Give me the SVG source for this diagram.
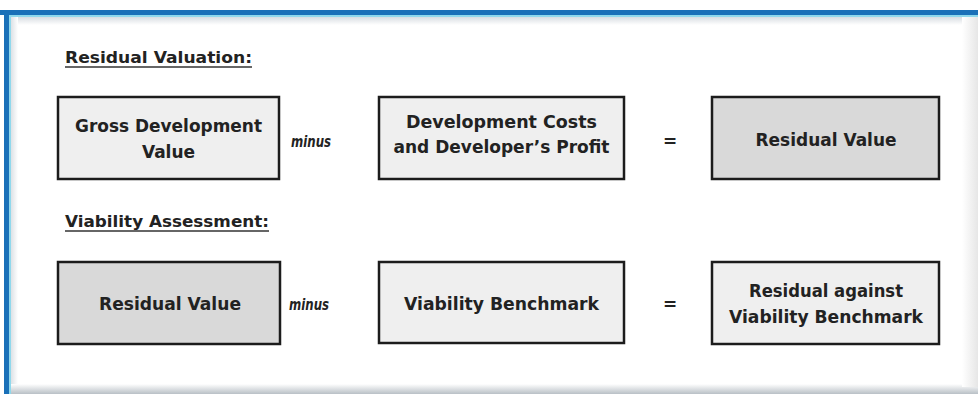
<svg xmlns="http://www.w3.org/2000/svg" width="978" height="394" viewBox="0 0 978 394">
<defs>
<linearGradient id="gTop" x1="0" y1="0" x2="0" y2="1"><stop offset="0" stop-color="#d8dde2"/><stop offset="1" stop-color="#ffffff"/></linearGradient>
<linearGradient id="gLeft" x1="0" y1="0" x2="1" y2="0"><stop offset="0" stop-color="#d8dde2"/><stop offset="1" stop-color="#ffffff"/></linearGradient>
<linearGradient id="gBottom" x1="0" y1="0" x2="0" y2="1"><stop offset="0" stop-color="#ffffff"/><stop offset="1" stop-color="#b9c0c6"/></linearGradient>
<linearGradient id="gRight" x1="0" y1="0" x2="1" y2="0"><stop offset="0" stop-color="#ffffff"/><stop offset="1" stop-color="#e6e6e6"/></linearGradient>
</defs>
<style>
.box{stroke:#1c1c1c;stroke-width:2.5}
.light{fill:#efefef}
.dark{fill:#d9d9d9}
text{font-family:"DejaVu Sans","Liberation Sans",sans-serif;font-weight:bold;fill:#222}
.t{font-size:17px;text-anchor:middle}
.h{font-size:16px}
.op{font-size:15px;font-style:italic}
.eq{font-size:17px;text-anchor:middle}
.ul{stroke:#333;stroke-width:1.3}
</style>
<rect width="978" height="394" fill="#ffffff"/>
<rect x="10" y="17" width="960" height="8" fill="url(#gTop)"/>
<rect x="10" y="17" width="8" height="370" fill="url(#gLeft)"/>
<rect x="10" y="384" width="968" height="10" fill="url(#gBottom)"/>
<rect x="962" y="17" width="16" height="370" fill="url(#gRight)"/>
<rect x="0" y="10" width="978" height="5" fill="#1a70b8"/>
<rect x="4" y="10" width="5" height="384" fill="#1a70b8"/>
<rect x="9" y="15" width="969" height="2" fill="#8fd8ec"/>
<rect x="9" y="15" width="2" height="379" fill="#8fd8ec"/>

<g id="heading-residual-valuation">
<text class="h" x="65" y="63" textLength="187" lengthAdjust="spacingAndGlyphs">Residual Valuation:</text>
<line class="ul" x1="65" y1="67" x2="252" y2="67"/>
</g>
<g id="heading-viability-assessment">
<text class="h" x="65" y="227" textLength="204" lengthAdjust="spacingAndGlyphs">Viability Assessment:</text>
<line class="ul" x1="65" y1="231" x2="269" y2="231"/>
</g>

<g id="gdv">
<rect class="box light" x="58" y="97" width="221" height="82"/>
<text class="t" x="168.5" y="132" textLength="187" lengthAdjust="spacingAndGlyphs">Gross Development</text>
<text class="t" x="168.5" y="158">Value</text>
</g>
<g id="dev-costs">
<rect class="box light" x="379" y="97" width="245" height="82"/>
<text class="t" x="501.5" y="128" textLength="191" lengthAdjust="spacingAndGlyphs">Development Costs</text>
<text class="t" x="501.5" y="153" textLength="216" lengthAdjust="spacingAndGlyphs">and Developer’s Profit</text>
</g>
<g id="residual-value-1">
<rect class="box dark" x="712" y="97" width="227" height="82"/>
<text class="t" x="826" y="146" textLength="141" lengthAdjust="spacingAndGlyphs">Residual Value</text>
</g>

<g id="residual-value-2">
<rect class="box dark" x="58" y="262" width="222" height="82"/>
<text class="t" x="170" y="310" textLength="142" lengthAdjust="spacingAndGlyphs">Residual Value</text>
</g>
<g id="viability-benchmark">
<rect class="box light" x="379" y="262" width="245" height="81"/>
<text class="t" x="501.5" y="310" textLength="195" lengthAdjust="spacingAndGlyphs">Viability Benchmark</text>
</g>
<g id="residual-against-benchmark">
<rect class="box light" x="712" y="262" width="227" height="82"/>
<text class="t" x="826" y="297" textLength="154" lengthAdjust="spacingAndGlyphs">Residual against</text>
<text class="t" x="826" y="323" textLength="194" lengthAdjust="spacingAndGlyphs">Viability Benchmark</text>
</g>

<g id="connectors">
<text class="op" x="291" y="147" textLength="40" lengthAdjust="spacingAndGlyphs">minus</text>
<text class="eq" x="670" y="147">=</text>
<text class="op" x="289" y="310" textLength="40" lengthAdjust="spacingAndGlyphs">minus</text>
<text class="eq" x="670" y="310">=</text>
</g>
</svg>
